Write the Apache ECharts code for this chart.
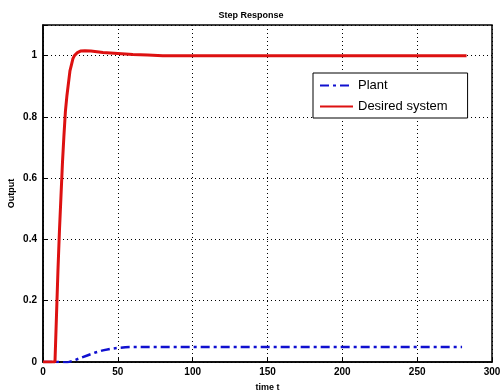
<!DOCTYPE html>
<html><head><meta charset="utf-8">
<script src="https://cdn.jsdelivr.net/npm/echarts@6/dist/echarts.min.js"></script>
<style>html,body{margin:0;padding:0;background:#fff}#c{width:502px;height:392px}</style>
</head><body><div id="c"></div>
<script>
const titleText = 'Step Response';
const xName = 'time t';
const yName = 'Output';
const xTicks = [0, 50, 100, 150, 200, 250, 300];
const yTicks = [0, 0.2, 0.4, 0.6, 0.8, 1];
const desiredT = [0, 8, 9, 10, 11, 12, 13, 14, 15, 16, 17, 18, 19, 20, 21, 23, 25, 28, 32, 36, 40, 50, 60, 70, 80, 100, 150, 200, 250, 283];
const desiredY = [0, 0, 0.15, 0.3, 0.43, 0.54, 0.65, 0.74, 0.82, 0.87, 0.91, 0.95, 0.97, 0.99, 1.0, 1.01, 1.015, 1.016, 1.015, 1.013, 1.01, 1.007, 1.004, 1.002, 1.0, 1.0, 1.0, 1.0, 1.0, 1.0];
const plantT = [0, 12, 16, 20, 25, 30, 35, 40, 45, 50, 55, 60, 80, 100, 150, 200, 250, 280];
const plantY = [0, 0, -0.002, 0.004, 0.013, 0.022, 0.031, 0.038, 0.043, 0.046, 0.048, 0.049, 0.049, 0.049, 0.049, 0.049, 0.049, 0.049];

const font = 'Liberation Sans, Arial, sans-serif';
const chart = echarts.init(document.getElementById('c'));
chart.setOption({
  animation: false,
  backgroundColor: '#fff',
  title: { text: titleText, left: 'center', top: 6, textStyle: { fontSize: 9, fontWeight: 'bold', fontFamily: font, color: '#000' } },
  grid: { left: 43, right: 10, top: 25, bottom: 30, show: true, borderColor: '#000', borderWidth: 1.5, outerBoundsMode: 'none', containLabel: false },
  legend: {
    orient: 'vertical', left: 313, top: 73,
    data: ['Plant', 'Desired system'],
    borderColor: '#000', borderWidth: 1, backgroundColor: '#fff', borderRadius: 0,
    padding: [6, 20, 5, 6], itemGap: 8, itemWidth: 33, itemHeight: 10,
    itemStyle: { opacity: 0 },
    textStyle: { fontSize: 13, fontFamily: font, color: '#000' }
  },
  xAxis: {
    type: 'value', min: 0, max: 300, interval: 50,
    name: xName, nameLocation: 'middle', nameGap: 21, nameMoveOverlap: false,
    nameTextStyle: { fontSize: 9, fontWeight: 'bold', fontFamily: font, color: '#000' },
    axisLine: { lineStyle: { color: '#000', width: 1.5 } },
    axisTick: { inside: true, length: 4, lineStyle: { color: '#000' } },
    axisLabel: { fontSize: 10, fontWeight: 'bold', fontFamily: font, color: '#000', margin: 5,
      formatter: v => xTicks.includes(v) ? String(v) : '' },
    splitLine: { show: true, lineStyle: { color: '#000', type: [1, 3], width: 1 } }
  },
  yAxis: {
    type: 'value', min: 0, max: 1.1, interval: 0.2,
    name: yName, nameLocation: 'middle', nameGap: 27, nameRotate: 90, nameMoveOverlap: false,
    nameTextStyle: { fontSize: 9, fontWeight: 'bold', fontFamily: font, color: '#000' },
    axisLine: { lineStyle: { color: '#000', width: 1.5 } },
    axisTick: { inside: true, length: 4, lineStyle: { color: '#000' } },
    axisLabel: { fontSize: 10, fontWeight: 'bold', fontFamily: font, color: '#000', margin: 6,
      formatter: v => { const r = Math.round(v * 10) / 10; return yTicks.includes(r) ? String(r) : ''; } },
    splitLine: { show: true, lineStyle: { color: '#000', type: [1, 3], width: 1 } }
  },
  series: [
    { name: 'Plant', type: 'line', showSymbol: false, symbol: 'none',
      data: plantT.map((t, i) => [t, plantY[i]]),
      lineStyle: { color: '#1010d0', width: 2.5, type: [9, 4, 3, 4] }, itemStyle: { color: '#1010d0' } },
    { name: 'Desired system', type: 'line', showSymbol: false, symbol: 'none',
      data: desiredT.map((t, i) => [t, desiredY[i]]),
      lineStyle: { color: '#dd1111', width: 3 }, itemStyle: { color: '#dd1111' } }
  ]
});
</script></body></html>
